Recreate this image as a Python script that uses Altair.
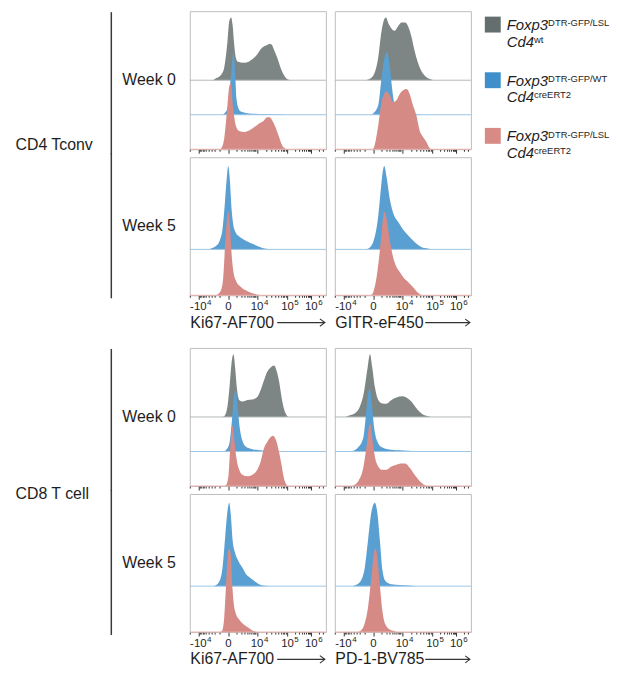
import math
import altair as alt
import pandas as pd

FONT = "Liberation Sans"
TEXT_COLOR = "#1e1e1e"

# ---------------- axis tick labels (position across panel, 0-100) ----------------
TICK_BASE = ["-10", "0", "10", "10", "10"]
TICK_EXP = ["4", "", "4", "5", "6"]
TICK_POS = [6.3, 28.3, 49.4, 71.8, 89.3]

# ---------------- row / column labels ----------------
CELL_LABELS = ["CD4 Tconv", "CD8 T cell"]
WEEKS = ["Week 0", "Week 5"]
MARKERS_CD4 = ["Ki67-AF700", "GITR-eF450"]
MARKERS_CD8 = ["Ki67-AF700", "PD-1-BV785"]

# ---------------- legend ----------------
LEGEND_MAIN = ["Foxp3", "Cd4"]
LEGEND_SUP_TOP = ["DTR-GFP/LSL", "DTR-GFP/WT", "DTR-GFP/LSL"]
LEGEND_SUP_BOTTOM = ["wt", "creERT2", "creERT2"]
LEGEND_COLORS = ["#646e6e", "#3f90ca", "#d88a85"]

FILL = {"gray": "#7d8685", "blue": "#5a9fd2", "red": "#d58a86"}
LINE = {"gray": "#b3b9b8", "blue": "#9cc7e6", "red": "#e6aeab"}

# ---------------- histogram data (x: position 0-100, y: fraction of mode) ----------------
# CD4 Tconv, Ki67, week 0
CD4_KI67_W0_GRAY_X = [17.0, 19.2, 22.9, 25.3, 27.7, 29.0, 30.4, 31.4, 32.6, 33.8, 35.0, 39.9, 43.6, 48.4, 53.3, 56.9, 58.5, 60.1, 61.8, 64.2, 66.7, 69.1, 71.5, 74.0]
CD4_KI67_W0_GRAY_Y = [0, 0.03, 0.085, 0.2, 0.62, 0.94, 1.0, 0.89, 0.57, 0.36, 0.3, 0.28, 0.3, 0.38, 0.52, 0.56, 0.58, 0.57, 0.49, 0.36, 0.2, 0.085, 0.02, 0]
CD4_KI67_W0_BLUE_X = [24.0, 25.3, 27.7, 29.4, 30.9, 32.1, 33.3, 34.3, 35.8, 37.5, 43.6, 55.7, 67.9, 75.0]
CD4_KI67_W0_BLUE_Y = [0, 0.02, 0.1, 0.42, 0.79, 1.0, 0.68, 0.26, 0.1, 0.05, 0.02, 0.01, 0.005, 0]
CD4_KI67_W0_RED_X = [21.5, 22.9, 25.3, 27.7, 29.0, 30.2, 31.4, 33.8, 36.3, 39.9, 43.6, 47.2, 50.9, 54.5, 56.9, 58.6, 60.6, 63.0, 65.5, 67.9, 70.3, 72.0]
CD4_KI67_W0_RED_Y = [0, 0.01, 0.17, 0.7, 1.0, 1.05, 0.75, 0.38, 0.29, 0.275, 0.3, 0.35, 0.41, 0.46, 0.51, 0.51, 0.46, 0.35, 0.2, 0.06, 0.01, 0]

# CD4 Tconv, GITR, week 0
CD4_GITR_W0_GRAY_X = [23.0, 24.6, 28.2, 31.9, 34.3, 36.3, 37.5, 39.7, 42.1, 44.0, 46.5, 48.9, 51.8, 53.8, 56.2, 58.6, 61.1, 63.5, 67.2, 70.8, 72.5]
CD4_GITR_W0_GRAY_Y = [0, 0.01, 0.07, 0.36, 0.78, 0.97, 1.0, 0.89, 0.81, 0.79, 0.86, 0.92, 0.92, 0.86, 0.7, 0.47, 0.28, 0.15, 0.05, 0.01, 0]
CD4_GITR_W0_BLUE_X = [26.5, 28.2, 31.9, 34.3, 36.3, 38.4, 40.4, 42.1, 44.0, 46.5, 51.3, 58.6, 64.0]
CD4_GITR_W0_BLUE_Y = [0, 0.02, 0.15, 0.58, 0.89, 1.0, 0.78, 0.42, 0.15, 0.06, 0.03, 0.01, 0]
CD4_GITR_W0_RED_X = [27.0, 28.2, 31.9, 34.3, 36.3, 37.5, 40.4, 42.8, 45.3, 47.7, 50.1, 52.8, 55.0, 57.4, 59.9, 62.3, 64.7, 67.2, 69.6, 71.0]
CD4_GITR_W0_RED_Y = [0, 0.01, 0.38, 0.75, 0.88, 0.92, 0.86, 0.75, 0.78, 0.88, 0.94, 0.96, 0.88, 0.7, 0.54, 0.3, 0.2, 0.12, 0.02, 0]

# CD4 Tconv, Ki67, week 5
CD4_KI67_W5_BLUE_X = [14.0, 15.6, 19.2, 22.1, 24.1, 25.8, 27.3, 28.2, 29.4, 30.7, 31.9, 33.8, 36.3, 38.7, 42.3, 46.0, 49.6, 53.3, 58.2, 61.0]
CD4_KI67_W5_BLUE_Y = [0, 0.01, 0.04, 0.11, 0.25, 0.56, 0.88, 1.0, 0.84, 0.48, 0.3, 0.2, 0.155, 0.127, 0.095, 0.067, 0.04, 0.016, 0.004, 0]
CD4_KI67_W5_RED_X = [19.0, 20.4, 22.9, 24.6, 26.0, 27.3, 28.2, 29.4, 30.7, 31.9, 33.8, 37.5, 41.1, 46.0, 50.9, 53.0]
CD4_KI67_W5_RED_Y = [0, 0.01, 0.06, 0.22, 0.62, 0.9, 1.0, 0.86, 0.5, 0.3, 0.18, 0.1, 0.06, 0.024, 0.004, 0]

# CD4 Tconv, GITR, week 5
CD4_GITR_W5_BLUE_X = [23.0, 24.6, 28.2, 31.9, 33.8, 35.5, 36.3, 38.0, 40.4, 42.8, 46.5, 50.1, 53.8, 58.6, 63.5, 68.4, 71.0]
CD4_GITR_W5_BLUE_Y = [0, 0.01, 0.09, 0.4, 0.72, 0.96, 1.0, 0.87, 0.6, 0.44, 0.33, 0.24, 0.17, 0.09, 0.03, 0.01, 0]
CD4_GITR_W5_RED_X = [26.0, 27.0, 30.7, 33.1, 35.0, 36.3, 38.0, 40.4, 42.8, 45.3, 47.7, 50.1, 53.8, 57.4, 61.1, 63.5, 65.0]
CD4_GITR_W5_RED_Y = [0, 0.005, 0.22, 0.54, 0.86, 1.0, 0.92, 0.66, 0.46, 0.34, 0.28, 0.22, 0.16, 0.1, 0.03, 0.004, 0]

# CD8 T cell, Ki67, week 0
CD8_KI67_W0_GRAY_X = [24.0, 25.3, 27.7, 29.4, 30.9, 32.1, 33.3, 34.5, 36.3, 38.7, 42.3, 46.0, 49.6, 52.1, 54.5, 56.9, 59.4, 62.0, 63.7, 65.5, 67.4, 69.1, 70.8, 72.7]
CD8_KI67_W0_GRAY_Y = [0, 0.01, 0.17, 0.53, 0.9, 1.0, 0.79, 0.48, 0.27, 0.245, 0.27, 0.28, 0.32, 0.43, 0.58, 0.72, 0.79, 0.82, 0.74, 0.58, 0.32, 0.14, 0.04, 0]
CD8_KI67_W0_BLUE_X = [25.0, 26.5, 29.0, 30.9, 32.6, 33.8, 35.0, 36.7, 38.7, 41.1, 46.0, 53.3, 63.0, 68.0]
CD8_KI67_W0_BLUE_Y = [0, 0.02, 0.12, 0.48, 0.9, 0.98, 0.74, 0.38, 0.17, 0.08, 0.036, 0.016, 0.005, 0]
CD8_KI67_W0_RED_X = [25.5, 26.5, 28.5, 29.7, 31.4, 32.6, 34.3, 36.3, 38.7, 42.3, 46.0, 49.6, 52.1, 54.5, 56.9, 59.4, 61.0, 63.0, 65.5, 67.4, 69.1, 70.8, 72.0]
CD8_KI67_W0_RED_Y = [0, 0.01, 0.18, 0.6, 0.97, 0.76, 0.44, 0.26, 0.18, 0.156, 0.18, 0.26, 0.39, 0.6, 0.7, 0.78, 0.8, 0.75, 0.55, 0.34, 0.13, 0.03, 0]

# CD8 T cell, PD-1, week 0
CD8_PD1_W0_GRAY_X = [8.0, 10.0, 14.8, 18.5, 21.7, 24.1, 25.8, 27.5, 29.4, 31.9, 34.3, 37.9, 41.6, 45.3, 49.4, 52.6, 56.2, 59.9, 63.5, 68.4, 70.5]
CD8_PD1_W0_GRAY_Y = [0, 0.02, 0.06, 0.17, 0.43, 0.79, 1.0, 0.79, 0.48, 0.27, 0.22, 0.21, 0.27, 0.31, 0.33, 0.31, 0.245, 0.14, 0.06, 0.01, 0]
CD8_PD1_W0_BLUE_X = [12.0, 13.6, 17.3, 20.9, 22.9, 24.6, 25.8, 27.0, 28.9, 31.4, 34.3, 41.6, 53.8, 60.0]
CD8_PD1_W0_BLUE_Y = [0, 0.01, 0.07, 0.22, 0.59, 0.95, 0.99, 0.8, 0.38, 0.15, 0.07, 0.026, 0.01, 0]
CD8_PD1_W0_RED_X = [12.0, 13.6, 17.3, 20.9, 23.4, 25.1, 26.1, 27.5, 29.4, 31.9, 34.3, 37.9, 41.6, 45.3, 48.9, 51.8, 55.0, 58.6, 62.3, 65.9, 68.0]
CD8_PD1_W0_RED_Y = [0, 0.01, 0.08, 0.29, 0.65, 0.94, 0.99, 0.76, 0.47, 0.31, 0.26, 0.26, 0.31, 0.34, 0.36, 0.36, 0.29, 0.18, 0.08, 0.015, 0]

# CD8 T cell, Ki67, week 5
CD8_KI67_W5_BLUE_X = [17.5, 19.2, 22.1, 24.1, 26.0, 27.7, 29.0, 30.2, 31.4, 33.3, 35.8, 38.7, 41.1, 43.6, 46.0, 48.4, 52.1, 55.7, 58.0]
CD8_KI67_W5_BLUE_Y = [0, 0.01, 0.07, 0.23, 0.59, 0.9, 1.0, 0.84, 0.56, 0.4, 0.3, 0.22, 0.15, 0.11, 0.08, 0.05, 0.015, 0.004, 0]
CD8_KI67_W5_RED_X = [22.0, 23.6, 25.3, 26.5, 27.7, 29.0, 30.2, 31.4, 33.3, 36.3, 39.9, 43.6, 47.2, 50.0]
CD8_KI67_W5_RED_Y = [0, 0.01, 0.17, 0.52, 0.88, 1.0, 0.92, 0.52, 0.25, 0.15, 0.087, 0.047, 0.01, 0]

# CD8 T cell, PD-1, week 5
CD8_PD1_W5_BLUE_X = [13.0, 14.8, 18.5, 22.1, 24.6, 27.0, 29.4, 31.4, 33.1, 35.0, 37.2, 41.6, 53.8, 60.0]
CD8_PD1_W5_BLUE_Y = [0, 0.01, 0.05, 0.23, 0.58, 0.9, 1.0, 0.86, 0.55, 0.19, 0.063, 0.024, 0.008, 0]
CD8_PD1_W5_RED_X = [17.0, 18.5, 21.7, 24.6, 27.0, 28.9, 29.9, 31.4, 33.1, 35.0, 37.2, 40.4, 44.0, 46.0]
CD8_PD1_W5_RED_Y = [0, 0.01, 0.09, 0.32, 0.68, 0.96, 1.0, 0.87, 0.56, 0.25, 0.09, 0.03, 0.01, 0]

# ---------------- layout constants ----------------
PANEL_W, PANEL_H = 137, 139
LEFT_W = 170
LEGEND_W = 128
GAP_ROW_H = 37
STEP = 0.55
Y_TOP = {3: 2.2, 2: 1.655}
ORDER = ["gray", "blue", "red"]
ARROW_SPAN = {"Ki67-AF700": (88, 136), "GITR-eF450": (91, 136), "PD-1-BV785": (91, 136)}
ARROW_PATH = "M-1,0L1,0M0.79,-0.155L1,0L0.79,0.155"
NO_STROKE = alt.ViewBackground(stroke="transparent")
LABEL_SIZE, EXP_SIZE = 11.5, 8


# ---------------- axis helpers ----------------
def minor_ticks():
    neg, zero, p4, p5, p6 = TICK_POS
    out = []
    for k in range(1, 10):
        g = math.log10(1 + 0.9 * k)
        out.append(zero + (p4 - zero) * g)
        out.append(zero - (zero - neg) * g)
    out.append(zero - (zero - neg) * math.log10(19))
    for k in range(2, 10):
        out.append(p4 + (p5 - p4) * math.log10(k))
        out.append(p5 + (p6 - p5) * math.log10(k))
    for k in range(2, 4):
        out.append(p6 + (p6 - p5) * math.log10(k))
    out = [round(v, 2) for v in out if 0 < v < 100]
    return [v for v in out if all(abs(v - m) > 0.3 for m in TICK_POS)]


ALL_TICKS = sorted(set(TICK_POS + minor_ticks()))
MAJOR_TEST = "indexof([" + ",".join(str(v) for v in TICK_POS) + "], datum.value) >= 0"


def x_axis(title):
    common = dict(
        values=ALL_TICKS,
        domain=False,
        grid=False,
        labels=False,
        tickColor="#333333",
        tickWidth=1,
        tickSize={"condition": {"test": MAJOR_TEST, "value": 4}, "value": 2},
    )
    if title:
        return alt.Axis(
            **common,
            title=title,
            titleFont=FONT,
            titleFontSize=16,
            titleFontWeight="normal",
            titleColor=TEXT_COLOR,
            titleX=0,
            titleY=32,
            titleAlign="left",
            titleAnchor="start",
            titleBaseline="alphabetic",
        )
    return alt.Axis(**common, title="")


def tick_label_layers(xscale, axis):
    df = pd.DataFrame({"pos": TICK_POS, "base": TICK_BASE, "exp": TICK_EXP})
    t = dict(font=FONT, color=TEXT_COLOR, baseline="alphabetic")
    xenc = alt.X("pos:Q", scale=xscale, axis=axis)
    base = alt.Chart(df).mark_text(fontSize=LABEL_SIZE, align="center", **t).encode(
        x=xenc, y=alt.value(PANEL_H + 15.3), text="base:N")
    exp_neg = alt.Chart(df).transform_filter("datum.base == '-10'").mark_text(
        fontSize=EXP_SIZE, align="left", dx=8.8, **t
    ).encode(x=xenc, y=alt.value(PANEL_H + 9.6), text="exp:N")
    exp_pos = alt.Chart(df).transform_filter("datum.base == '10'").mark_text(
        fontSize=EXP_SIZE, align="left", dx=6.9, **t
    ).encode(x=xenc, y=alt.value(PANEL_H + 9.6), text="exp:N")
    return [base, exp_neg, exp_pos]


def panel(curves, title=""):
    names = [c for c in ORDER if c in curves]
    n = len(names)
    xscale = alt.Scale(domain=[0, 100], nice=False, zero=False)
    yscale = alt.Scale(domain=[0, Y_TOP[n]], nice=False, zero=False)
    axis = x_axis(title)
    layers = []
    for i, name in enumerate(names):
        xs, ys = curves[name]
        off = (n - 1 - i) * STEP
        df = pd.DataFrame({"x": xs, "v": ys})
        df["top"] = df["v"] + off
        df["base"] = off
        area = alt.Chart(df).mark_area(interpolate="monotone", color=FILL[name], opacity=1).encode(
            x=alt.X("x:Q", scale=xscale, axis=axis),
            y=alt.Y("top:Q", scale=yscale, axis=None),
            y2="base:Q",
        )
        rule = alt.Chart(pd.DataFrame({"base": [off]})).mark_rule(
            color=LINE[name], strokeWidth=1
        ).encode(y=alt.Y("base:Q", scale=yscale, axis=None))
        layers += [area, rule]
    if title:
        layers += tick_label_layers(xscale, axis)
        x0, x1 = ARROW_SPAN[title]
        arrow = alt.Chart(pd.DataFrame({"a": [0]})).mark_point(
            shape=ARROW_PATH, size=(x1 - x0) ** 2, filled=False, stroke="#333333",
            strokeWidth=1.1, opacity=1,
        ).encode(x=alt.value((x0 + x1) / 2), y=alt.value(PANEL_H + 27.5))
        layers.append(arrow)
    return alt.layer(*layers).properties(width=PANEL_W, height=PANEL_H)


def left_cell(week, block_label="", label_y=0.0, first=True):
    wk = pd.DataFrame({"week": [week]})
    y0, y1 = (1, PANEL_H + 5) if first else (-4, PANEL_H + 3)
    line = alt.Chart(wk).mark_rule(color="#3a3a3a", strokeWidth=1.5).encode(
        x=alt.value(100), y=alt.value(y0), y2=alt.value(y1)
    )
    weeks = alt.Chart(wk).mark_text(
        align="right", baseline="middle", font=FONT, fontSize=16, color=TEXT_COLOR
    ).encode(x=alt.value(LEFT_W - 5), y=alt.value(PANEL_H / 2), text="week:N")
    layers = [line, weeks]
    if block_label:
        lab = pd.DataFrame({"label": [block_label]})
        layers.append(
            alt.Chart(lab).mark_text(
                align="left", baseline="middle", font=FONT, fontSize=16, color=TEXT_COLOR
            ).encode(x=alt.value(3.5), y=alt.value(label_y), text="label:N")
        )
    return alt.layer(*layers).properties(width=LEFT_W, height=PANEL_H, view=NO_STROKE)


def empty_cell(w, h):
    return alt.Chart(pd.DataFrame({"a": [0]})).mark_point(opacity=0).encode(
        x=alt.value(0), y=alt.value(0)
    ).properties(width=w, height=h, view=NO_STROKE)


def legend_chart():
    keys = [a + "|" + b for a, b in zip(LEGEND_SUP_TOP, LEGEND_SUP_BOTTOM)]
    df = pd.DataFrame({"key": keys, "sup1": LEGEND_SUP_TOP, "sup2": LEGEND_SUP_BOTTOM})
    yenc = alt.Y("key:N", axis=None, scale=alt.Scale(type="point", domain=keys, padding=0.241))
    base = alt.Chart(df)
    squares = base.mark_square(size=256, opacity=1).encode(
        x=alt.value(13), y=yenc,
        color=alt.Color("key:N", scale=alt.Scale(domain=keys, range=LEGEND_COLORS), legend=None),
    )
    t = dict(align="left", baseline="alphabetic", font=FONT, color=TEXT_COLOR)
    main1 = base.mark_text(fontSize=15, fontStyle="italic", dy=5.5, **t).encode(
        x=alt.value(27), y=yenc, text=alt.value(LEGEND_MAIN[0]))
    sup1 = base.mark_text(fontSize=9.5, dy=1.7, **t).encode(
        x=alt.value(68.7), y=yenc, text="sup1:N")
    main2 = base.mark_text(fontSize=15, fontStyle="italic", dy=22.3, **t).encode(
        x=alt.value(27), y=yenc, text=alt.value(LEGEND_MAIN[1]))
    sup2 = base.mark_text(fontSize=9.5, dy=18.3, **t).encode(
        x=alt.value(54.5), y=yenc, text="sup2:N")
    return alt.layer(squares, main1, sup1, main2, sup2).properties(
        width=LEGEND_W, height=PANEL_H, view=NO_STROKE
    )


cells = [
    left_cell(WEEKS[0], CELL_LABELS[0], 134.5, True),
    panel({"gray": (CD4_KI67_W0_GRAY_X, CD4_KI67_W0_GRAY_Y),
           "blue": (CD4_KI67_W0_BLUE_X, CD4_KI67_W0_BLUE_Y),
           "red": (CD4_KI67_W0_RED_X, CD4_KI67_W0_RED_Y)}),
    panel({"gray": (CD4_GITR_W0_GRAY_X, CD4_GITR_W0_GRAY_Y),
           "blue": (CD4_GITR_W0_BLUE_X, CD4_GITR_W0_BLUE_Y),
           "red": (CD4_GITR_W0_RED_X, CD4_GITR_W0_RED_Y)}),
    legend_chart(),

    left_cell(WEEKS[1], first=False),
    panel({"blue": (CD4_KI67_W5_BLUE_X, CD4_KI67_W5_BLUE_Y),
           "red": (CD4_KI67_W5_RED_X, CD4_KI67_W5_RED_Y)}, MARKERS_CD4[0]),
    panel({"blue": (CD4_GITR_W5_BLUE_X, CD4_GITR_W5_BLUE_Y),
           "red": (CD4_GITR_W5_RED_X, CD4_GITR_W5_RED_Y)}, MARKERS_CD4[1]),
    empty_cell(1, PANEL_H),

    empty_cell(1, GAP_ROW_H), empty_cell(1, GAP_ROW_H),
    empty_cell(1, GAP_ROW_H), empty_cell(1, GAP_ROW_H),

    left_cell(WEEKS[0], CELL_LABELS[1], 147, True),
    panel({"gray": (CD8_KI67_W0_GRAY_X, CD8_KI67_W0_GRAY_Y),
           "blue": (CD8_KI67_W0_BLUE_X, CD8_KI67_W0_BLUE_Y),
           "red": (CD8_KI67_W0_RED_X, CD8_KI67_W0_RED_Y)}),
    panel({"gray": (CD8_PD1_W0_GRAY_X, CD8_PD1_W0_GRAY_Y),
           "blue": (CD8_PD1_W0_BLUE_X, CD8_PD1_W0_BLUE_Y),
           "red": (CD8_PD1_W0_RED_X, CD8_PD1_W0_RED_Y)}),
    empty_cell(1, PANEL_H),

    left_cell(WEEKS[1], first=False),
    panel({"blue": (CD8_KI67_W5_BLUE_X, CD8_KI67_W5_BLUE_Y),
           "red": (CD8_KI67_W5_RED_X, CD8_KI67_W5_RED_Y)}, MARKERS_CD8[0]),
    panel({"blue": (CD8_PD1_W5_BLUE_X, CD8_PD1_W5_BLUE_Y),
           "red": (CD8_PD1_W5_RED_X, CD8_PD1_W5_RED_Y)}, MARKERS_CD8[1]),
    empty_cell(1, PANEL_H),
]

chart = (
    alt.concat(*cells, columns=4, spacing={"row": 8, "column": 9},
               bounds="flush", align="each")
    .properties(padding=0)
    .configure(font=FONT)
    .configure_view(stroke="#bdbdbd", strokeWidth=1)
)

chart.save("out.html", embed_options={"renderer": "svg", "actions": False})
